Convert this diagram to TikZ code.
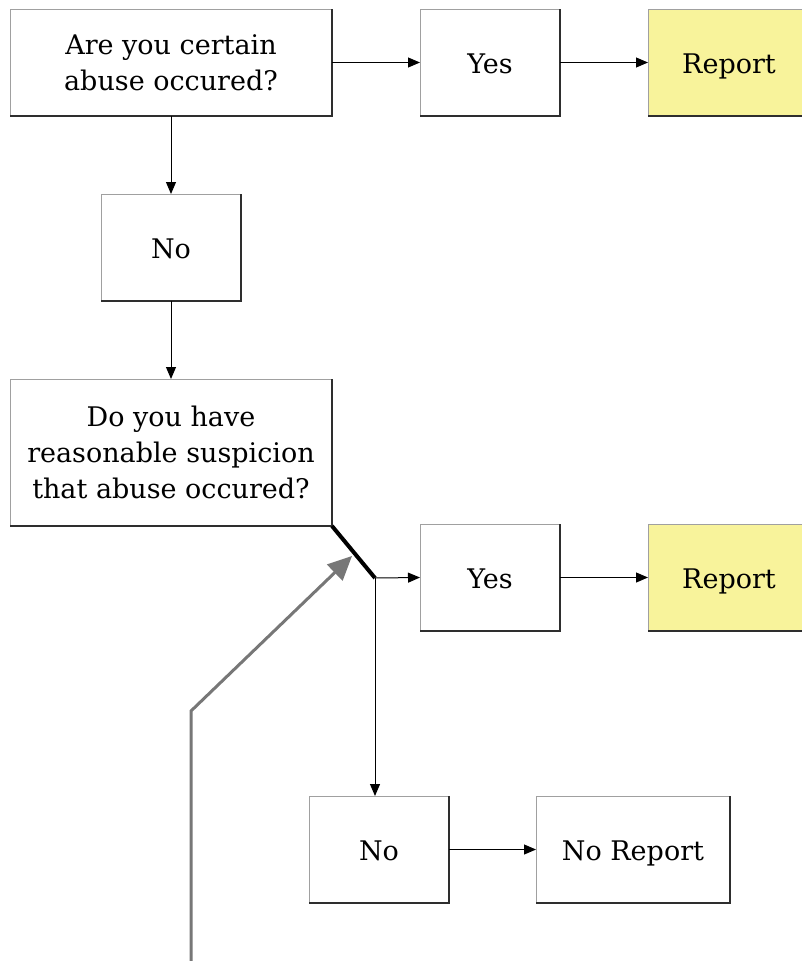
\documentclass[tikz,border=0pt]{standalone}
\usepackage{fontspec}
\setmainfont{DejaVu Serif}
\usetikzlibrary{arrows.meta,positioning}
\definecolor{Edge}{HTML}{2E2E2E}
\definecolor{EdgeLight}{HTML}{A0A0A0}
\definecolor{ReportFill}{HTML}{F8F39B}
\definecolor{Pointer}{HTML}{777777}
\tikzset{box/.style={draw=EdgeLight,fill=white,line width=1pt,minimum height=107pt,minimum width=140pt,align=center,inner sep=0pt,outer sep=0pt,font=\fontsize{27}{36}\selectfont},single/.style={box,text height=24pt,text depth=3pt},question/.style={box,minimum width=322pt},report/.style={single,fill=ReportFill,minimum width=162pt},flow/.style={-{Triangle[length=12pt,width=10pt]},line width=1pt},shade/.style={draw=Edge,line width=1.2pt},pointer/.style={-{Triangle[length=24pt,width=22pt,fill=Pointer]},draw=Pointer,line width=3pt}}
\begin{document}
\begin{tikzpicture}[x=1pt,y=-1pt]
      \useasboundingbox (0,0) rectangle (801,961);
      \node[question](certain) at (171,62.5){Are you certain\\abuse occured?};
      \node[single,right=88pt of certain](yesA){Yes};
      \node[report,right=88pt of yesA](reportA){Report};
      \node[single,below=78pt of certain](noA){No};
      \node[question,minimum height=147pt,below=78pt of noA](suspect){Do you have\\reasonable suspicion\\that abuse occured?};
      \coordinate (split) at (375,578);
      \node[single](yesB) at (490,577.5){Yes};
      \node[report,right=88pt of yesB](reportB){Report};
      \node[single](noB) at (379,849.5){No};
      \node[single,minimum width=194pt,right=87pt of noB](noreport){No Report};
      % darker bottom and right edges
      \foreach \n in {certain,yesA,reportA,noA,suspect,yesB,reportB,noB,noreport}
        \draw[shade](\n.south west)--(\n.south east)--(\n.north east);
      \draw[flow](certain.east)--(yesA.west);\draw[flow](yesA.east)--(reportA.west);
      \draw[flow](certain.south)--(noA.north);\draw[flow](noA.south)--(suspect.north);
      \draw[line width=4pt](suspect.south east)--(split);
      \draw[flow](split)--(yesB.west);\draw[flow](yesB.east)--(reportB.west);
      \draw[flow](split)--(split|-noB.north);
      \draw[flow](noB.east)--(noreport.west);
      \coordinate (tail) at (191,961);\coordinate (bend) at (191,711);\coordinate (tip) at (352,556);
      \draw[pointer](tail)--(bend)--(tip);
    \end{tikzpicture}
\end{document}
